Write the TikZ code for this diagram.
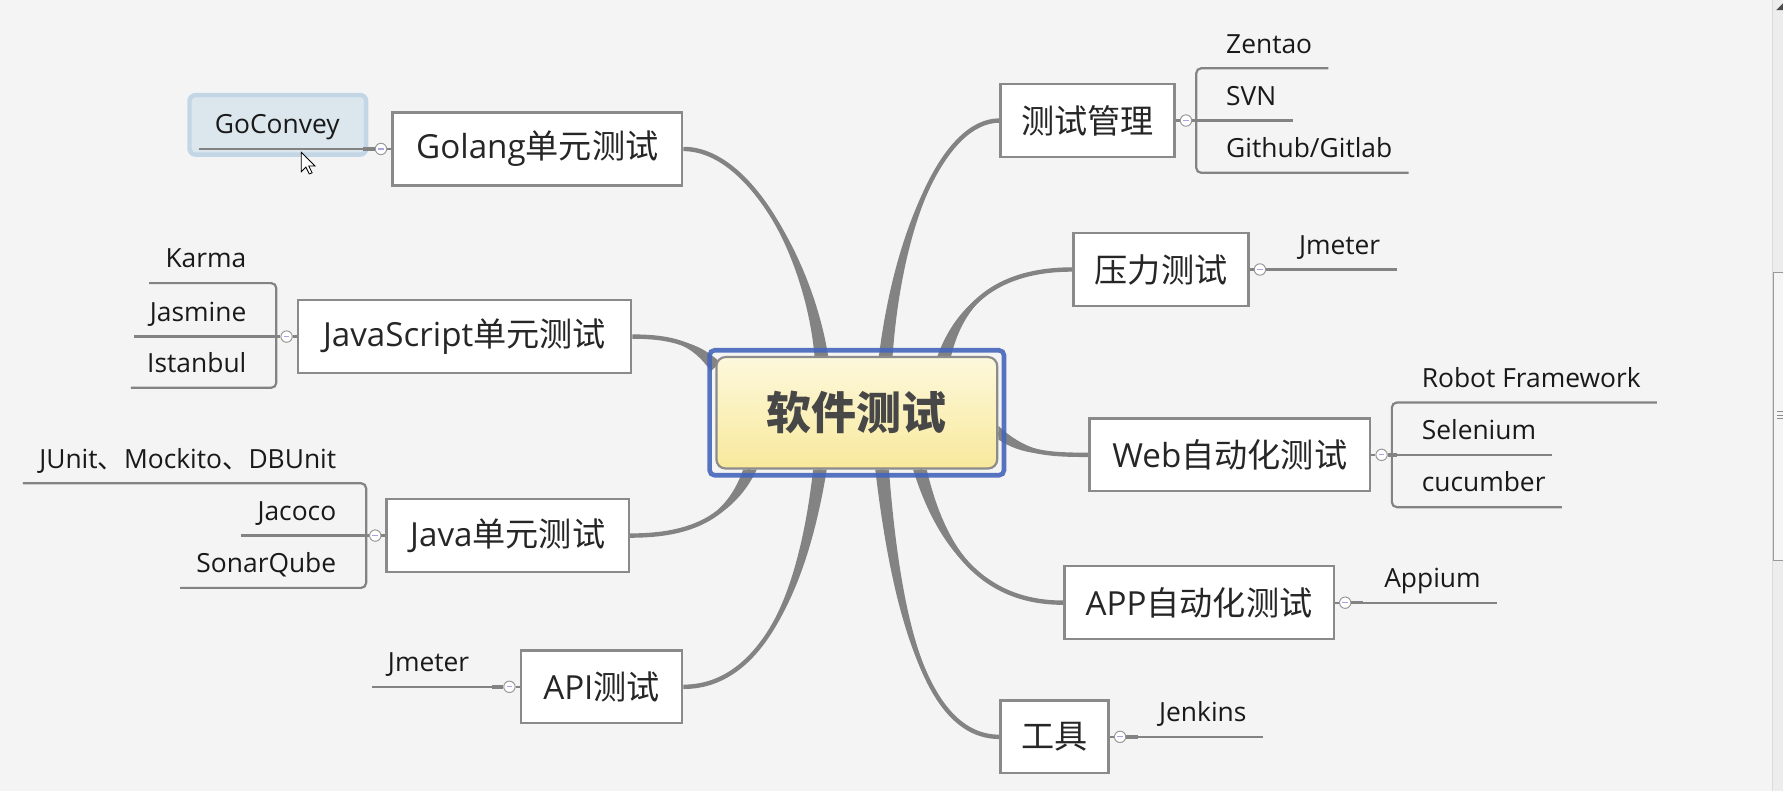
\documentclass[tikz,border=0pt]{standalone}
\usepackage{fontspec}
\setmainfont{Open Sans}
\newfontfamily\cjk{Noto Sans CJK SC}
\usetikzlibrary{positioning,calc}
\definecolor{canvas}{HTML}{F4F4F4}
\definecolor{branchgray}{HTML}{838383}
\definecolor{boxgray}{HTML}{8A8A8A}
\definecolor{selblue}{HTML}{4466BB}
\definecolor{rootlight}{HTML}{FDF8DC}
\definecolor{rootdark}{HTML}{F8E99C}
\definecolor{goblue}{HTML}{DCE7ED}
\definecolor{goframe}{HTML}{C3D6E6}
\pgfdeclarelayer{background}
\pgfdeclarelayer{edges}
\pgfsetlayers{background,edges,main}
\tikzset{
  root/.style={rounded corners=0.16cm, draw=black!45, line width=1.1pt, top color=rootlight, bottom color=rootdark,
    minimum width=4.94cm, minimum height=1.96cm, font=\cjk\fontsize{22.5}{26}\selectfont\bfseries, text=black!72},
  selframe/.style={draw=selblue, line width=2.3pt, rounded corners=2.5pt, opacity=0.9},
  topic/.style={draw=boxgray, line width=1.2pt, fill=white, minimum height=1.28cm, inner xsep=0pt,
    font=\fontsize{16.6}{19}\selectfont, text=black!85},
  leaf/.style={font=\fontsize{13.2}{15}\selectfont, text=black!90, inner xsep=0.28cm, inner ysep=7.4pt,
    text height=9.5pt, text depth=0pt},
  fold/.style={circle, draw=black!40, fill=white, line width=0.5pt, minimum size=0.2cm, inner sep=0pt,
    path picture={\draw[black!30!blue!35, line width=0.6pt] ($(path picture bounding box.center)+(-2.5,0)$) -- ++(5,0);}},
  leafline/.style={draw=branchgray, line width=1.1pt},
  stub/.style={draw=branchgray, line width=1.7pt},
  branch/.style={fill=branchgray},
  branchline/.style={draw=branchgray, line width=2.2pt},
  selbox/.style={fill=goblue, draw=goframe, line width=2.2pt, rounded corners=3pt},
}
% tapered branch: start, control 1, control 2, end, half width
\newcommand{\branchcurve}[5]{%
  \fill[branch] ($#1+#5$) .. controls ($#2+0.5*#5$) and #3 .. #4 .. controls #3 and ($#2-0.5*#5$) .. ($#1-#5$) -- cycle;
  \draw[branchline] #1 .. controls #2 and #3 .. #4;}
\begin{document}
\begin{tikzpicture}[x=0.02cm, y=-0.02cm]
	\useasboundingbox (0,0) rectangle (1568,696);
	% canvas and scroll bar
	\begin{pgfonlayer}{background}
		\fill[canvas] (0,0) rectangle (1568,696);
		\fill[black!7] (1559,0) rectangle (1568,696);
		\draw[black!14, line width=0.5pt] (1559,0) -- (1559,696);
		\draw[fill=black!4, draw=black!40, line width=0.5pt] (1560,240) rectangle (1570,493);
		\foreach \y in {362,365,368} \draw[black!45, line width=0.4pt] (1563,\y) -- (1568,\y);
		\fill[black!70] (1568,3) -- (1568,9) -- (1562,9) -- cycle;
	\end{pgfonlayer}
	% central topic
	\node[root] (root) at (753.5,363) {软件测试};
	\draw[selframe] ([shift={(-5,-5)}]root.north west) rectangle ([shift={(5,5)}]root.south east);
	% main topics
	\node[topic, minimum width=5.1cm] (golang) at (472.5,131) {Golang{\cjk 单元测试}};
	\node[topic, minimum width=5.86cm] (js) at (408.5,296) {JavaScript{\cjk 单元测试}};
	\node[topic, minimum width=4.26cm] (java) at (446.5,471) {Java{\cjk 单元测试}};
	\node[topic, minimum width=2.84cm] (api) at (529,604) {API{\cjk 测试}};
	\node[topic, minimum width=3.06cm] (mgmt) at (956.5,106) {\cjk 测试管理};
	\node[topic, minimum width=3.08cm] (stress) at (1021,237) {\cjk 压力测试};
	\node[topic, minimum width=4.94cm] (web) at (1081.5,400) {Web{\cjk 自动化测试}};
	\node[topic, minimum width=4.74cm] (app) at (1054.5,530) {APP{\cjk 自动化测试}};
	\node[topic, minimum width=1.9cm] (tools) at (927.5,648) {\cjk 工具};
	% fold buttons
	\node[fold, left=2pt of golang] (golang-f) {};
	\node[fold, left=2pt of js] (js-f) {};
	\node[fold, left=2pt of java] (java-f) {};
	\node[fold, left=2pt of api] (api-f) {};
	\node[fold, right=2pt of mgmt] (mgmt-f) {};
	\node[fold, right=2pt of stress] (stress-f) {};
	\node[fold, right=2pt of web] (web-f) {};
	\node[fold, right=2pt of app] (app-f) {};
	\node[fold, right=2pt of tools] (tools-f) {};
	% leaves
	\node[leaf, anchor=south east] (goconvey) at (313,131) {GoConvey};
	\node[leaf, anchor=south east] (karma) at (231,249) {Karma};
	\node[leaf, anchor=south east] (jasmine) at (231,296) {Jasmine};
	\node[leaf, anchor=south east] (istanbul) at (231,341) {Istanbul};
	\node[leaf, anchor=south east] (junit) at (310,425) {JUnit{\cjk 、}Mockito{\cjk 、}DBUnit};
	\node[leaf, anchor=south east] (jacoco) at (310,471) {Jacoco};
	\node[leaf, anchor=south east] (sonar) at (310,517) {SonarQube};
	\node[leaf, anchor=south east] (jmeter-a) at (427,604) {Jmeter};
	\node[leaf, anchor=south west] (zentao) at (1064,60) {Zentao};
	\node[leaf, anchor=south west] (svn) at (1064,106) {SVN};
	\node[leaf, anchor=south west] (github) at (1064,152) {Github/Gitlab};
	\node[leaf, anchor=south west] (jmeter-s) at (1128,237) {Jmeter};
	\node[leaf, anchor=south west] (robot) at (1236,354) {Robot Framework};
	\node[leaf, anchor=south west] (selenium) at (1236,400) {Selenium};
	\node[leaf, anchor=south west] (cucumber) at (1236,446) {cucumber};
	\node[leaf, anchor=south west] (appium) at (1203,530) {Appium};
	\node[leaf, anchor=south west] (jenkins) at (1005,648) {Jenkins};
	% branches from the centre
	\begin{pgfonlayer}{edges}
		\branchcurve{(root.122)}{(712,230)}{(660,131)}{(golang.east)}{(6,0)}
		\branchcurve{(root.162)}{(612,302)}{(590,296)}{(js.east)}{(4,-4)}
		\branchcurve{(root.208)}{(640,460)}{(600,471)}{(java.east)}{(6,0)}
		\branchcurve{(root.237)}{(705,530)}{(665,604)}{(api.east)}{(6,0)}
		\branchcurve{(root.63)}{(790,200)}{(830,106)}{(mgmt.west)}{(6,0)}
		\branchcurve{(root.33)}{(845,265)}{(880,237)}{(stress.west)}{(6,0)}
		\branchcurve{(root.352)}{(900,398)}{(920,400)}{(web.west)}{(0,6)}
		\branchcurve{(root.318)}{(830,490)}{(870,530)}{(app.west)}{(6,0)}
		\branchcurve{(root.294)}{(790,560)}{(820,648)}{(tools.west)}{(6,0)}
		% selected leaf
		\draw[selbox] ([shift={(-8,-4)}]goconvey.north west) rectangle ([shift={(9,5)}]goconvey.south east);
	\end{pgfonlayer}
	% leaf lines
	\foreach \t in {golang,js,java,api,mgmt,stress,web,app,tools}
		\draw[leafline] (\t) -- (\t-f);
	\draw[stub] (golang-f.west) -- ++(-10,0);
	\draw[leafline] (golang-f.west) -- (goconvey.south west);
	\draw[stub] (js-f.west) -- ++(-10,0);
	\draw[leafline] (js-f.west) -- (jasmine.south west);
	\draw[leafline, rounded corners=2.5pt] (karma.south west) -| ([xshift=0.24cm]istanbul.south east) -- (istanbul.south west);
	\draw[stub] (java-f.west) -- ++(-8,0);
	\draw[leafline] (java-f.west) -- (jacoco.south west);
	\draw[leafline, rounded corners=2.5pt] (junit.south west) -| ([xshift=0.24cm]sonar.south east) -- (sonar.south west);
	\draw[stub] (api-f.west) -- ++(-10,0);
	\draw[leafline] (api-f.west) -- (jmeter-a.south west);
	\draw[stub] (mgmt-f.east) -- ++(8,0);
	\draw[leafline] (mgmt-f.east) -- (svn.south east);
	\draw[leafline, rounded corners=2.5pt] (zentao.south east) -| ([xshift=-0.24cm]github.south west) -- (github.south east);
	\draw[stub] (stress-f.east) -- ++(10,0);
	\draw[leafline] (stress-f.east) -- (jmeter-s.south east);
	\draw[stub] (web-f.east) -- ++(8,0);
	\draw[leafline] (web-f.east) -- (selenium.south east);
	\draw[leafline, rounded corners=2.5pt] (robot.south east) -| ([xshift=-0.24cm]cucumber.south west) -- (cucumber.south east);
	\draw[stub] (app-f.east) -- ++(10,0);
	\draw[leafline] (app-f.east) -- (appium.south east);
	\draw[stub] (tools-f.east) -- ++(10,0);
	\draw[leafline] (tools-f.east) -- (jenkins.south east);
	% mouse pointer
	\draw[fill=white, line width=0.4pt, line join=miter] (265,134) -- (265,151) -- (269,147) -- (272,153) -- (274.5,152) -- (271.5,146) -- (277,146) -- cycle;
\end{tikzpicture}
\end{document}
